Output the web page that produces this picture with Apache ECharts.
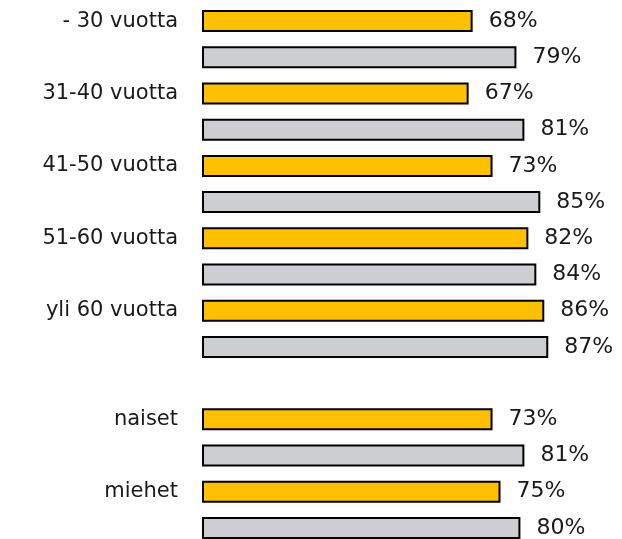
<!DOCTYPE html>
<html>
<head>
<meta charset="utf-8">
<script src="https://cdn.jsdelivr.net/npm/echarts@6/dist/echarts.min.js"></script>
<style>
  html, body { margin: 0; padding: 0; background: #fff; }
  #chart { width: 622px; height: 539px; }
</style>
</head>
<body>
<div id="chart"></div>
<script>
// ryhmät: ikäryhmät ja sukupuoli, väli niiden välissä
const categories = ['- 30 vuotta', '31-40 vuotta', '41-50 vuotta', '51-60 vuotta', 'yli 60 vuotta', 'naiset', 'miehet'];
const orangeValues = [68, 67, 73, 82, 86, 73, 75];
const greyValues = [79, 81, 85, 84, 87, 81, 80];
const gapBefore = 5; // tyhjä rivi ennen 'naiset'

const ORANGE = '#FFC000';
const GREY = '#CDCED2';

// rakennetaan rivit: oranssi + harmaa per ryhmä
let slotNames = [];
let slotLabels = [];
let slotData = [];
for (let i = 0; i < categories.length; i++) {
  if (i === gapBefore) {
    slotNames.push('gap');
    slotLabels.push('');
    slotData.push('-');
  }
  slotNames.push('o' + i);
  slotLabels.push(categories[i]);
  slotData.push({ value: orangeValues[i], itemStyle: { color: ORANGE } });
  slotNames.push('g' + i);
  slotLabels.push('');
  slotData.push({ value: greyValues[i], itemStyle: { color: GREY } });
}

let myChart = echarts.init(document.getElementById('chart'));
myChart.setOption({
  animation: false,
  textStyle: { fontFamily: 'DejaVu Sans' },
  grid: { left: 202, width: 398, top: 3, height: 543, outerBoundsMode: 'none', containLabel: false },
  xAxis: {
    type: 'value',
    min: 0,
    max: 100,
    show: false
  },
  yAxis: {
    type: 'category',
    inverse: true,
    data: slotNames,
    axisLine: { show: false },
    axisTick: { show: false },
    splitLine: { show: false },
    axisLabel: {
      margin: 24,
      fontSize: 21,
      color: '#1a1a1a',
      fontFamily: 'DejaVu Sans',
      interval: 0,
      formatter: function (v, idx) { return slotLabels[idx]; }
    }
  },
  series: [{
    type: 'bar',
    data: slotData,
    barWidth: 22,
    itemStyle: { borderColor: '#000', borderWidth: 2 },
    label: {
      show: true,
      position: 'right',
      distance: 16,
      formatter: '{c}%',
      fontSize: 22,
      color: '#1a1a1a',
      fontFamily: 'DejaVu Sans'
    }
  }]
});
</script>
</body>
</html>
